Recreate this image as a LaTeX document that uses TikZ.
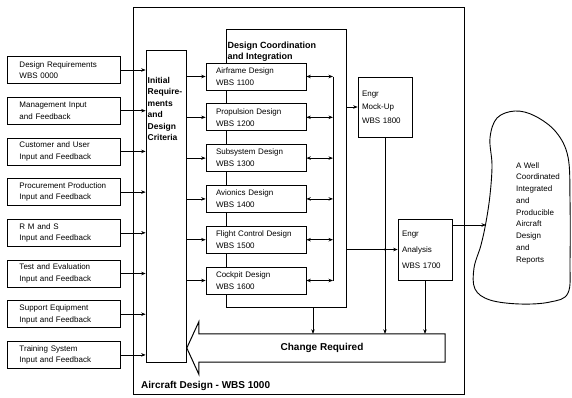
\documentclass[tikz,border=0pt]{standalone}
\usepackage{fontspec}
\setmainfont{Liberation Sans}
\usetikzlibrary{arrows.meta, positioning, calc}
\tikzset{
  inbox/.style={draw, line width=0.7pt, minimum width=113pt, minimum height=27pt,
                text width=88pt, inner xsep=12.5pt, inner ysep=0pt, align=left,
                font=\fontsize{8}{11.5}\selectfont},
  desbox/.style={draw, line width=0.7pt, fill=white, minimum width=100pt, minimum height=27pt,
                 text width=80pt, inner xsep=10pt, inner ysep=0pt, align=left,
                 font=\fontsize{8}{12}\selectfont},
  engbox/.style={draw, line width=0.7pt, minimum width=54pt, minimum height=60pt,
                 text width=46pt, inner xsep=4pt, align=left},
  plainbox/.style={draw, line width=0.7pt, inner sep=0pt},
  boldlbl/.style={font=\bfseries\fontsize{9}{11}\selectfont, align=left, inner sep=0pt,
                  anchor=north west},
  flow/.style={-{Stealth[length=4.5pt, width=3.5pt]}, line width=0.6pt},
  biflow/.style={{Stealth[length=4.5pt, width=3.5pt]}-{Stealth[length=4.5pt, width=3.5pt]},
                 line width=0.8pt},
}

\begin{document}
\begin{tikzpicture}[x=1pt, y=-1pt]
  \useasboundingbox[fill=white] (0,0) rectangle (572,397);
  % aircraft design frame
  \node[plainbox, line width=0.5pt, minimum width=331pt, minimum height=387pt] (ac) at (298.5,200.5) {};
  \node[boldlbl, font=\bfseries\fontsize{10}{12}\selectfont, anchor=west] (aclbl) at (141,386) {Aircraft Design - WBS 1000};

  % inputs
  \foreach \i/\lbl in {0/{Design Requirements\\WBS 0000}, 1/{Management Input\\and Feedback},
                       2/{Customer and User\\Input and Feedback}, 3/{Procurement Production\\Input and Feedback},
                       4/{R M and S\\Input and Feedback}, 5/{Test and Evaluation\\Input and Feedback},
                       6/{Support Equipment\\Input and Feedback}, 7/{Training System\\Input and Feedback}}
    \node[inbox] (in\i) at (63.5,70+\i*40.7) {\lbl};

  \node[plainbox, minimum width=40pt, minimum height=312pt] (init) at (166,206) {};
  \node[boldlbl, font=\bfseries\fontsize{8.5}{11.5}\selectfont] (initlbl) at (147.5,77) {Initial\\Require-\\ments\\and\\Design\\Criteria};

  % design coordination
  \node[plainbox, minimum width=120pt, minimum height=278pt] (coord) at (286,168) {};
  \node[boldlbl] (coordlbl) at (227.5,42) {Design Coordination\\and Integration};
  \foreach \i/\lbl in {1/{Airframe Design\\WBS 1100}, 2/{Propulsion Design\\WBS 1200},
                       3/{Subsystem Design\\WBS 1300}, 4/{Avionics Design\\WBS 1400},
                       5/{Flight Control Design\\WBS 1500}, 6/{Cockpit Design\\WBS 1600}}
    \node[desbox] (des\i) at (256,76.5+\i*40.8-40.8) {\lbl};

  \node[engbox, font=\fontsize{8}{13.5}\selectfont] (mock) at (385,107) {Engr\\Mock-Up\\WBS 1800};
  \node[engbox, minimum height=61pt, font=\fontsize{8}{16}\selectfont] (ana) at (425,249.5) {Engr\\Analysis\\WBS 1700};

  % change required
  \node[minimum width=246pt, minimum height=28pt, inner sep=0pt,
        font=\bfseries\fontsize{10}{12}\selectfont] (chg) at (322,348) {Change Required};
  \draw[line width=1pt] (chg.north east) -- (chg.north west) -- ([yshift=12pt]chg.north west)
    -- ([xshift=-12pt]chg.west) -- ([yshift=-12pt]chg.south west) -- (chg.south west)
    -- (chg.south east) -- cycle;

  % result
  \draw[line width=0.9pt] plot[smooth cycle, tension=0.6] coordinates {(490,138) (497,118) (515,111)
    (535,116) (556,132) (568,157) (570,200) (570,260) (568,293) (550,302) (520,304) (490,300)
    (475,289) (474,268) (481,245) (486,222) (490,195) (492,165)};
  \node[anchor=north west, inner sep=0pt, align=left, font=\fontsize{8}{11.75}\selectfont] (goal)
    at (516,162) {A Well\\Coordinated\\Integrated\\and\\Producible\\Aircraft\\Design\\and\\Reports};
  \coordinate (goalin) at (486,225);

  % connectors
  \coordinate (bus) at (333,0);
  \coordinate (fb) at (313,0);
  \foreach \i in {0,...,7}
    \draw[flow] (in\i.east) -- (init.west |- in\i.east);
  \foreach \i in {1,...,6}{
    \draw[flow] (init.east |- des\i.west) -- (des\i.west);
    \draw[biflow] (des\i.east) -- (bus |- des\i.east);
  }
  \draw[line width=0.6pt] (bus |- des1.east) -- (bus |- des6.east);
  \draw[flow] (coord.east |- mock.west) -- (mock.west);
  \draw[flow] (coord.east |- ana.west) -- (ana.west);
  \draw[flow] (mock.south) -- (mock.south |- chg.north);
  \fill (mock.south |- ana.west) circle (1.2pt);
  \draw[flow] (ana.south) -- (ana.south |- chg.north);
  \draw[flow] (fb |- coord.south) -- (fb |- chg.north);
  \draw[flow] (ana.east |- goalin) -- (goalin);
\end{tikzpicture}
\end{document}
